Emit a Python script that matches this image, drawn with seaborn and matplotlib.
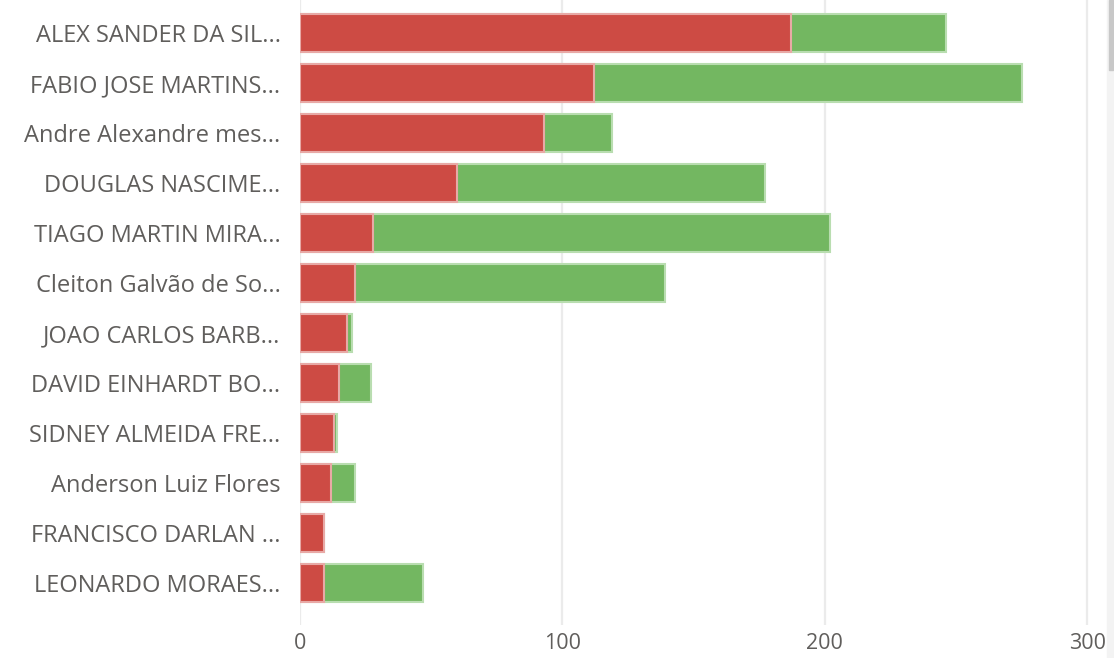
"""Stacked horizontal bars: red + green per person (Power BI style)."""
import matplotlib.pyplot as plt
import matplotlib.patches as mpatches
import pandas as pd
import seaborn as sns

NAMES = [
    'ALEX SANDER DA SIL...',
    'FABIO JOSE MARTINS...',
    'Andre Alexandre mes...',
    'DOUGLAS NASCIME...',
    'TIAGO MARTIN MIRA...',
    'Cleiton Galvão de So...',
    'JOAO CARLOS BARB...',
    'DAVID EINHARDT BO...',
    'SIDNEY ALMEIDA FRE...',
    'Anderson Luiz Flores',
    'FRANCISCO DARLAN ...',
    'LEONARDO MORAES...',
]
RED = [187, 112, 93, 60, 28, 21, 18, 15, 13, 12, 9, 9]
GREEN = [59, 163, 26, 117, 174, 118, 2, 12, 1, 9, 0, 38]
XTICKS = [0, 100, 200, 300]

RED_C = '#CD4B44'
GREEN_C = '#73B761'
TEXT_C = '#605E5C'


def main() -> None:
    sns.set_theme(style='white')
    plt.rcParams['font.family'] = ['Open Sans', 'DejaVu Sans']

    df = pd.DataFrame({'name': NAMES, 'red': RED, 'green': GREEN})
    df['total'] = df['red'] + df['green']

    fig = plt.figure(figsize=(11.14, 6.58), dpi=100)
    ax = fig.add_axes([300 / 1114, 1 - 625 / 658, 790 / 1114, 625 / 658])

    sns.barplot(data=df, y='name', x='total', color=GREEN_C, width=0.76,
                saturation=1, edgecolor='#B9DDB0', linewidth=1.5, ax=ax)
    sns.barplot(data=df, y='name', x='red', color=RED_C, width=0.76,
                saturation=1, edgecolor='#E8A9A6', linewidth=1.5, ax=ax)

    ax.set_xlim(0, 301)
    ax.set_ylim(len(NAMES) - 1 + 0.84, -0.66)
    ax.set_xticks(XTICKS)
    ax.xaxis.grid(True, color='#EBEBEB', lw=1.6)
    ax.set_axisbelow(True)
    for s in ax.spines.values():
        s.set_visible(False)
    ax.tick_params(axis='both', length=0, colors=TEXT_C)
    ax.tick_params(axis='y', pad=14, labelsize=17)
    ax.tick_params(axis='x', pad=6, labelsize=15.5)
    ax.set_xlabel('')
    ax.set_ylabel('')

    # scrollbar hint at the right edge
    fig.patches.append(mpatches.Rectangle((1107 / 1114, 0), 7 / 1114, 1,
                                          transform=fig.transFigure,
                                          color='#F3F3F3', zorder=0))
    fig.patches.append(mpatches.Rectangle((1109 / 1114, 1 - 70 / 658), 4 / 1114,
                                          70 / 658, transform=fig.transFigure,
                                          color='#C8C8C8', zorder=1))

    fig.savefig('out.png', dpi=100)


if __name__ == '__main__':
    main()
